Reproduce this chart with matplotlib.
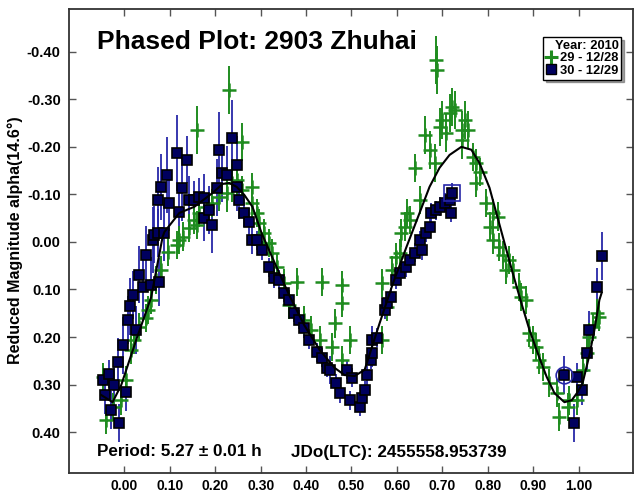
import matplotlib
matplotlib.use("Agg")
import matplotlib.pyplot as plt
from matplotlib.lines import Line2D

plt.rcParams['font.family'] = ['Liberation Sans', 'DejaVu Sans']

# ---- data ----
x_ticks = [0.0, 0.1, 0.2, 0.3, 0.4, 0.5, 0.6, 0.7, 0.8, 0.9, 1.0]
y_ticks = [-0.4, -0.3, -0.2, -0.1, 0.0, 0.1, 0.2, 0.3, 0.4]

# session 30 - 12/29 (navy squares)
navy_phase = [-0.048, -0.042, -0.033, -0.029, -0.022, -0.015, -0.011, -0.004, 0.004, 0.007,
              0.013, 0.020, 0.026, 0.033, 0.040, 0.048, 0.059, 0.062, 0.066, 0.073,
              0.073, 0.077, 0.081, 0.088, 0.093, 0.099, 0.115, 0.121, 0.126, 0.137,
              0.143, 0.154, 0.165, 0.176, 0.176, 0.187, 0.194, 0.205, 0.209, 0.216,
              0.227, 0.238, 0.247, 0.247, 0.253, 0.264, 0.275, 0.282, 0.293, 0.304,
              0.319, 0.330, 0.341, 0.352, 0.363, 0.374, 0.385, 0.396, 0.407, 0.425,
              0.436, 0.447, 0.452, 0.467, 0.474, 0.491, 0.496, 0.502, 0.518, 0.524,
              0.529, 0.535, 0.544, 0.546, 0.546, 0.557, 0.573, 0.579, 0.588, 0.599,
              0.606, 0.621, 0.628, 0.639, 0.650, 0.656, 0.665, 0.672, 0.676, 0.687,
              0.694, 0.705, 0.716, 0.720, 0.722, 0.969, 0.991, 0.996, 1.007, 1.018,
              1.024, 1.040, 1.051]
navy_mag = [0.291, 0.322, 0.278, 0.354, 0.301, 0.253, 0.381, 0.217, 0.316, 0.164,
            0.135, 0.112, 0.185, 0.069, 0.095, 0.027, 0.091, -0.004, -0.015, -0.019,
            -0.088, 0.084, -0.116, -0.019, -0.141, -0.082, -0.187, -0.063, -0.114, -0.173,
            -0.088, -0.088, -0.095, -0.093, -0.051, -0.067, -0.036, -0.114, -0.194, -0.145,
            -0.141, -0.219, -0.162, -0.116, -0.088, -0.061, -0.042, -0.004, -0.004, 0.017,
            0.053, 0.076, 0.080, 0.107, 0.122, 0.149, 0.164, 0.181, 0.206, 0.232,
            0.244, 0.265, 0.269, 0.297, 0.318, 0.269, 0.333, 0.286, 0.347, 0.328,
            0.312, 0.280, 0.248, 0.234, 0.206, 0.202, 0.143, 0.128, 0.116, 0.080,
            0.065, 0.053, 0.038, 0.023, -0.004, 0.017, -0.019, -0.032, -0.061, -0.067,
            -0.074, -0.082, -0.088, -0.061, -0.103, 0.280, 0.381, 0.284, 0.312, 0.234,
            0.185, 0.095, 0.029]
navy_err = [0.03, 0.04, 0.03, 0.04, 0.05, 0.05, 0.04, 0.06, 0.04, 0.05,
            0.06, 0.05, 0.05, 0.06, 0.07, 0.06, 0.06, 0.07, 0.06, 0.05,
            0.07, 0.05, 0.07, 0.06, 0.08, 0.06, 0.08, 0.06, 0.07, 0.05,
            0.05, 0.04, 0.04, 0.05, 0.05, 0.05, 0.06, 0.06, 0.08, 0.06,
            0.06, 0.08, 0.06, 0.05, 0.04, 0.03, 0.03, 0.03, 0.02, 0.02,
            0.02, 0.02, 0.02, 0.02, 0.02, 0.02, 0.02, 0.02, 0.02, 0.02,
            0.02, 0.02, 0.03, 0.02, 0.02, 0.02, 0.02, 0.02, 0.02, 0.02,
            0.02, 0.02, 0.02, 0.03, 0.03, 0.02, 0.02, 0.02, 0.02, 0.02,
            0.02, 0.02, 0.02, 0.02, 0.02, 0.02, 0.02, 0.02, 0.02, 0.02,
            0.02, 0.02, 0.02, 0.02, 0.02, 0.04, 0.04, 0.03, 0.03, 0.04,
            0.04, 0.04, 0.05]

# highlighted navy points (outlined square, outlined circle)
hl_square_phase = [0.722]
hl_square_mag = [-0.103]
hl_circle_phase = [0.969]
hl_circle_mag = [0.280]

# session 29 - 12/28 (green crosses)
green_phase = [-0.048, -0.040, -0.026, -0.007, 0.004, 0.015, 0.022, 0.033, 0.048, 0.051,
               0.059, 0.070, 0.081, 0.095, 0.115, 0.121, 0.128, 0.143, 0.154, 0.159,
               0.159, 0.165, 0.181, 0.194, 0.209, 0.225, 0.231, 0.238, 0.247, 0.258,
               0.260, 0.280, 0.282, 0.291, 0.297, 0.308, 0.319, 0.326, 0.337, 0.352,
               0.363, 0.381, 0.396, 0.412, 0.430, 0.436, 0.458, 0.463, 0.480, 0.480,
               0.480, 0.496, 0.568, 0.579, 0.568, 0.590, 0.599, 0.606, 0.610, 0.617,
               0.623, 0.628, 0.639, 0.650, 0.661, 0.672, 0.683, 0.687, 0.689, 0.694,
               0.700, 0.709, 0.716, 0.722, 0.727, 0.744, 0.749, 0.756, 0.744, 0.767,
               0.775, 0.782, 0.775, 0.797, 0.811, 0.822, 0.804, 0.811, 0.826, 0.833,
               0.848, 0.841, 0.855, 0.870, 0.874, 0.885, 0.892, 0.899, 0.907, 0.914,
               0.921, 0.936, 0.952, 0.958, 0.976, 0.980, 0.996, 1.009, 1.018, 1.024,
               1.031, 1.040, 1.046]
green_mag = [0.284, 0.375, 0.347, 0.333, 0.291, 0.227, 0.206, 0.179, 0.160, 0.143,
             0.122, 0.080, 0.059, 0.021, 0.006, -0.004, -0.011, -0.029, -0.046, -0.036,
             -0.236, -0.061, -0.074, -0.082, -0.095, -0.103, -0.320, -0.124, -0.131, -0.211,
             -0.109, -0.116, -0.082, -0.061, -0.040, -0.019, 0.002, 0.023, 0.053, 0.086,
             0.133, 0.084, 0.164, 0.185, 0.206, 0.084, 0.221, 0.171, 0.091, 0.128,
             0.248, 0.206, 0.086, 0.137, 0.206, 0.059, 0.032, 0.023, -0.019, -0.032,
             -0.061, -0.046, -0.156, -0.088, -0.225, -0.194, -0.166, -0.383, -0.362, -0.242,
             -0.257, -0.229, -0.272, -0.284, -0.278, -0.236, -0.257, -0.236, -0.215, -0.179,
             -0.166, -0.147, -0.124, -0.082, -0.061, -0.053, -0.032, -0.004, 0.011, 0.027,
             0.038, 0.059, 0.059, 0.095, 0.116, 0.122, 0.192, 0.206, 0.221, 0.248,
             0.263, 0.297, 0.318, 0.368, 0.347, 0.333, 0.333, 0.269, 0.234, 0.200,
             0.179, 0.149, 0.158]
green_err = [0.03, 0.03, 0.03, 0.03, 0.03, 0.03, 0.03, 0.03, 0.03, 0.03,
             0.03, 0.03, 0.03, 0.03, 0.03, 0.03, 0.03, 0.03, 0.03, 0.03,
             0.05, 0.03, 0.03, 0.03, 0.03, 0.04, 0.05, 0.04, 0.04, 0.04,
             0.03, 0.03, 0.03, 0.03, 0.03, 0.03, 0.03, 0.03, 0.03, 0.03,
             0.03, 0.03, 0.03, 0.03, 0.03, 0.03, 0.03, 0.03, 0.03, 0.03,
             0.03, 0.03, 0.03, 0.03, 0.03, 0.03, 0.03, 0.03, 0.03, 0.03,
             0.03, 0.03, 0.03, 0.03, 0.04, 0.04, 0.04, 0.05, 0.05, 0.04,
             0.04, 0.04, 0.04, 0.04, 0.04, 0.04, 0.04, 0.04, 0.04, 0.03,
             0.03, 0.03, 0.03, 0.03, 0.03, 0.03, 0.03, 0.03, 0.03, 0.03,
             0.03, 0.03, 0.03, 0.03, 0.03, 0.03, 0.03, 0.03, 0.03, 0.03,
             0.03, 0.03, 0.03, 0.03, 0.03, 0.03, 0.03, 0.03, 0.03, 0.03,
             0.03, 0.03, 0.03]

# fitted curve
fit_phase = [-0.051, -0.026, -0.007, 0.026, 0.059, 0.084, 0.088, 0.121, 0.154, 0.194,
             0.216, 0.231, 0.247, 0.264, 0.282, 0.302, 0.330, 0.363, 0.396, 0.430,
             0.463, 0.485, 0.507, 0.529, 0.562, 0.590, 0.621, 0.650, 0.672, 0.694,
             0.716, 0.742, 0.764, 0.782, 0.804, 0.819, 0.837, 0.855, 0.874, 0.892,
             0.914, 0.930, 0.947, 0.969, 0.985, 0.998, 1.009, 1.024, 1.035, 1.046,
             1.051]
fit_mag = [0.322, 0.337, 0.301, 0.206, 0.116, -0.010, -0.021, -0.061, -0.074, -0.103,
           -0.122, -0.124, -0.116, -0.099, -0.074, -0.019, 0.042, 0.112, 0.175, 0.227,
           0.265, 0.280, 0.282, 0.269, 0.171, 0.091, 0.011, -0.061, -0.116, -0.156,
           -0.183, -0.200, -0.194, -0.166, -0.114, -0.061, 0.002, 0.065, 0.128, 0.185,
           0.244, 0.284, 0.318, 0.337, 0.333, 0.316, 0.297, 0.238, 0.185, 0.122,
           0.107]

assert len(navy_phase) == len(navy_mag) == len(navy_err)
assert len(green_phase) == len(green_mag) == len(green_err)
assert len(fit_phase) == len(fit_mag)

W, H = 637, 493
fig = plt.figure(figsize=(W / 100, H / 100), dpi=100)
ax = fig.add_axes([69 / W, 20 / H, 564 / W, 464 / H])

GREEN = '#1f8c1f'
NAVY_BAR = '#2828a8'
NAVY_FACE = '#00005e'

# navy error bars
ax.errorbar(navy_phase, navy_mag, yerr=navy_err, fmt='none', ecolor=NAVY_BAR,
            elinewidth=1.3, capsize=0, zorder=2)
# green crosses with error bars
ax.errorbar(green_phase, green_mag, yerr=green_err, fmt='+', color=GREEN,
            ecolor=GREEN, elinewidth=1.4, markersize=10, markeredgewidth=1.8,
            capsize=0, zorder=3)
# navy squares
ax.plot(navy_phase, navy_mag, 's', markersize=7, markerfacecolor=NAVY_FACE,
        markeredgecolor='black', markeredgewidth=1.2, linestyle='none', zorder=4)
# highlighted points
ax.plot(hl_square_phase, hl_square_mag, 's', markersize=11, markerfacecolor='none',
        markeredgecolor=NAVY_BAR, markeredgewidth=1.2, linestyle='none', zorder=4)
ax.plot(hl_circle_phase, hl_circle_mag, 'o', markersize=12, markerfacecolor='none',
        markeredgecolor=NAVY_BAR, markeredgewidth=1.2, linestyle='none', zorder=4)
# fit
ax.plot(fit_phase, fit_mag, '-', color='black', linewidth=1.5, zorder=5)

ax.set_xlim(-0.122, 1.120)
ax.set_ylim(0.486, -0.49)
ax.set_xticks(x_ticks)
ax.set_xticklabels([f'{v:.2f}' for v in x_ticks])
ax.set_yticks(y_ticks)
ax.set_yticklabels([f'{v:.2f}' for v in y_ticks])
ax.tick_params(direction='in', length=5, width=1.0, color='#555555',
               top=True, right=True)
ax.tick_params(axis='y', labelsize=10.5, pad=6)
ax.tick_params(axis='x', labelsize=10, pad=4)
for lab in ax.get_xticklabels() + ax.get_yticklabels():
    lab.set_fontweight('bold')
for sp in ax.spines.values():
    sp.set_linewidth(1.3)
    sp.set_color('#333333')

fig.text(15 / W, 1 - 240 / H, 'Reduced Magnitude alpha(14.6°)', fontsize=11.5,
         fontweight='bold', rotation=90, ha='center', va='center')

fig.text(97 / W, 1 - 42 / H, 'Phased Plot: 2903 Zhuhai', fontsize=19,
         fontweight='bold', ha='left', va='center')
fig.text(97 / W, 1 - 452 / H, 'Period: 5.27 ± 0.01 h', fontsize=12.3,
         fontweight='bold', ha='left', va='center')
fig.text(291 / W, 1 - 452 / H, 'JDo(LTC): 2455558.953739', fontsize=12.3,
         fontweight='bold', ha='left', va='center')

handles = [Line2D([], [], marker='+', color=GREEN, linestyle='none',
                  markersize=10, markeredgewidth=2.2),
           Line2D([], [], marker='s', markerfacecolor=NAVY_FACE, markeredgecolor='black',
                  linestyle='none', markersize=7.5)]
leg = ax.legend(handles, ['29 - 12/28', '30 - 12/29'], title='Year: 2010',
                loc='upper right', bbox_to_anchor=(621 / W, 1 - 37 / H),
                bbox_transform=fig.transFigure, frameon=True, fancybox=False,
                shadow=True, edgecolor='black', framealpha=1,
                prop={'weight': 'bold', 'size': 9.3},
                title_fontproperties={'weight': 'bold', 'size': 9.3},
                alignment='right', handlelength=0.8, handletextpad=0.3,
                borderpad=0.2, labelspacing=0.05, borderaxespad=0)
leg.get_frame().set_linewidth(1.0)

fig.savefig('out.png', dpi=100)
